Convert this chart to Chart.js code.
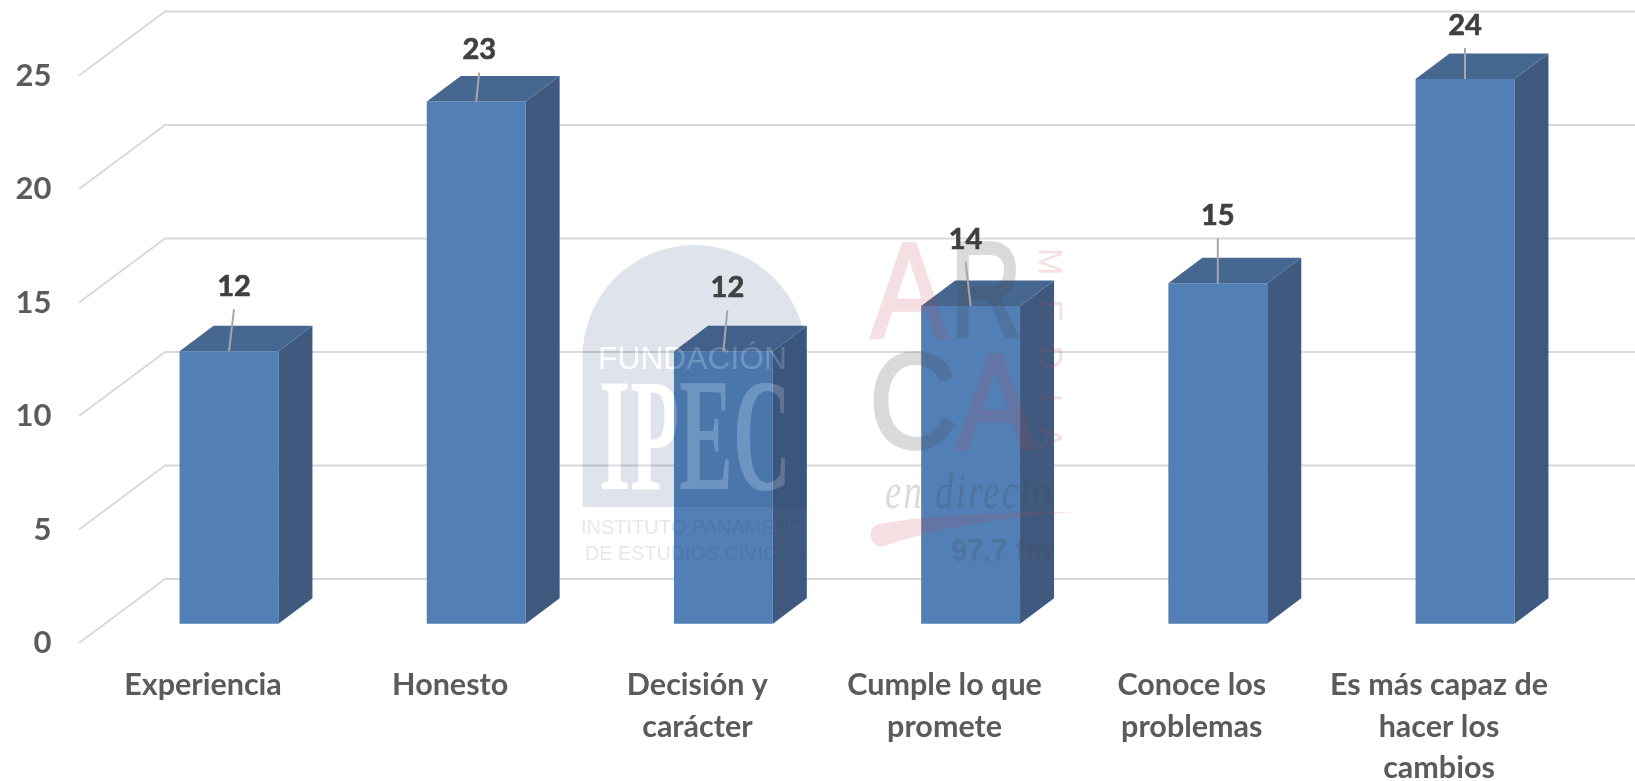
<!DOCTYPE html>
<html><head><meta charset="utf-8">
<style>html,body{margin:0;padding:0;background:#fff}canvas{display:block}</style>
<script src="https://cdn.jsdelivr.net/npm/chart.js@4/dist/chart.umd.min.js"></script>
</head><body>
<canvas id="c" width="1635" height="781"></canvas>
<script>
const categories = [
  "Experiencia",
  "Honesto",
  ["Decisión y", "carácter"],
  ["Cumple lo que", "promete"],
  ["Conoce los", "problemas"],
  ["Es más capaz de", "hacer los", "cambios"]
];
const values = [12, 23, 12, 14, 15, 24];
const yStep = 5;

// leader line tips for the value labels, relative to bar centre / bar top
const leaderDx = [5, 3, 4, -5, 0, 0];
const leaderDy = [-42, -29, -41, -44, -45, -31];

const FONT = 'Lato, "Open Sans", sans-serif';
const PX_PER_UNIT = 22.7;
const BAR_LIFT = 19.3, WALL_LIFT = 64;
const AREA_H = 643 - 11.5;
const DEPTH_X = 34, DEPTH_Y = 25.5;

const threeD = {
  id: 'threeD',
  beforeDatasetsDraw(chart) {
    const ctx = chart.ctx, wall = chart.scales.yWall, front = chart.scales.y;
    ctx.save();
    ctx.strokeStyle = '#d9d9d9';
    ctx.lineWidth = 2;
    ctx.lineJoin = 'round';
    front.ticks.forEach(t => {
      const yb = wall.getPixelForValue(t.value), yf = front.getPixelForValue(t.value);
      ctx.beginPath();
      ctx.moveTo(79, yf);
      ctx.lineTo(165, yb);
      ctx.lineTo(1635, yb);
      ctx.stroke();
    });
    ctx.restore();
  },
  afterDatasetsDraw(chart) {
    const ctx = chart.ctx;
    const meta = chart.getDatasetMeta(0);
    ctx.save();
    meta.data.forEach(b => {
      const l = b.x - b.width / 2, r = b.x + b.width / 2, t = b.y, base = b.base;
      ctx.fillStyle = '#3f5a7e';
      ctx.beginPath();
      ctx.moveTo(r, base); ctx.lineTo(r + DEPTH_X, base - DEPTH_Y);
      ctx.lineTo(r + DEPTH_X, t - DEPTH_Y); ctx.lineTo(r, t);
      ctx.closePath(); ctx.fill();
      ctx.fillStyle = '#46678f';
      ctx.beginPath();
      ctx.moveTo(l, t); ctx.lineTo(l + DEPTH_X, t - DEPTH_Y);
      ctx.lineTo(r + DEPTH_X, t - DEPTH_Y); ctx.lineTo(r, t);
      ctx.closePath(); ctx.fill();
    });
    ctx.restore();
    drawIpec(ctx);
    drawArca(ctx);
    // value labels and leader lines
    ctx.save();
    meta.data.forEach((b, i) => {
      const tx = b.x + leaderDx[i], ty = b.y + leaderDy[i];
      ctx.strokeStyle = '#a6a6a6';
      ctx.lineWidth = 2;
      ctx.beginPath(); ctx.moveTo(b.x, b.y); ctx.lineTo(tx, ty); ctx.stroke();
      ctx.fillStyle = '#404040';
      ctx.strokeStyle = '#404040';
      ctx.lineWidth = 0.7;
      ctx.font = 'bold 29px ' + FONT;
      ctx.textAlign = 'center';
      ctx.textBaseline = 'middle';
      ctx.fillText(String(values[i]), tx, ty - 22.5);
      ctx.strokeText(String(values[i]), tx, ty - 22.5);
    });
    ctx.restore();
  }
};

function drawIpec(ctx) {
  const off = document.createElement('canvas');
  off.width = 1635; off.height = 781;
  const o = off.getContext('2d');
  o.fillStyle = 'rgba(40,70,120,0.15)';
  o.beginPath();
  o.moveTo(582.5, 357);
  o.arc(694.5, 357, 112, Math.PI, 0);
  o.lineTo(806.5, 507);
  o.lineTo(582.5, 507);
  o.closePath();
  o.fill();
  const letters = (fill) => {
    o.fillStyle = fill;
    o.textAlign = 'left'; o.textBaseline = 'alphabetic';
    o.font = '32px "Liberation Sans"';
    o.fillText('FUNDACIÓN', 598, 369, 189);
    o.font = 'bold 160px "Liberation Serif"';
    o.fillText('IPEC', 599, 489, 192);
  };
  o.globalCompositeOperation = 'destination-out';
  letters('#000');
  o.globalCompositeOperation = 'source-over';
  letters('rgba(255,255,255,0.17)');
  o.fillStyle = 'rgba(40,70,120,0.13)';
  o.font = '20px "Liberation Sans"';
  o.textBaseline = 'middle';
  o.fillText('INSTITUTO PANAMEÑO', 581, 528, 226);
  o.fillText('DE ESTUDIOS CÍVICOS', 585, 554, 221);
  ctx.drawImage(off, 0, 0);
}

function drawArca(ctx) {
  const pink = 'rgba(190,70,85,0.17)', gray = 'rgba(70,70,70,0.2)';
  const off = document.createElement('canvas');
  off.width = 1635; off.height = 781;
  const o = off.getContext('2d');
  o.textBaseline = 'alphabetic';
  o.font = '135px "Liberation Sans"';
  o.lineWidth = 3.5;
  o.lineJoin = 'miter';
  const glyph = (ch, x, y, w, rgb) => {
    o.fillStyle = o.strokeStyle = rgb;
    o.fillText(ch, x, y, w);
    o.strokeText(ch, x, y, w);
  };
  // drawn opaque on their own layer so that fill and outline do not add up
  glyph('A', 871, 337, 76, 'rgb(190,70,85)');
  glyph('A', 956, 448, 78, 'rgb(190,70,85)');
  o.globalCompositeOperation = 'destination-out';
  o.globalCompositeOperation = 'source-over';
  ctx.save();
  ctx.globalAlpha = 0.17;
  ctx.drawImage(off, 0, 0);
  o.clearRect(0, 0, 1635, 781);
  glyph('R', 950, 337, 72, 'rgb(70,70,70)');
  glyph('C', 869, 448, 88, 'rgb(70,70,70)');
  ctx.globalAlpha = 0.2;
  ctx.drawImage(off, 0, 0);
  ctx.restore();

  ctx.save();
  ctx.textAlign = 'left'; ctx.textBaseline = 'alphabetic';
  // swoosh
  ctx.fillStyle = pink;
  ctx.beginPath();
  ctx.moveTo(1076, 512);
  ctx.quadraticCurveTo(950, 512, 884, 523);
  ctx.arc(882, 535, 11.5, -Math.PI / 2, Math.PI / 2, true);
  ctx.quadraticCurveTo(960, 520, 1076, 512);
  ctx.closePath();
  ctx.fill();
  // vertical MEDIA
  ctx.save();
  ctx.translate(1039, 248);
  ctx.rotate(Math.PI / 2);
  ctx.fillStyle = pink;
  ctx.font = '33px "Liberation Sans"';
  ctx.letterSpacing = '24px';
  ctx.fillText('MEDIA', 0, 0);
  ctx.restore();
  ctx.fillStyle = gray;
  ctx.font = 'italic 50px "Liberation Serif"';
  ctx.letterSpacing = '3px';
  ctx.fillText('en directo', 885, 508, 168);
  ctx.letterSpacing = '0px';
  ctx.font = 'bold 31px "Liberation Sans"';
  ctx.fillText('97.7 fm', 951, 561, 100);
  ctx.restore();
}

new Chart(document.getElementById('c'), {
  type: 'bar',
  data: {
    labels: categories,
    datasets: [{
      data: values,
      yAxisID: 'yBar',
      backgroundColor: '#517fb6',
      borderWidth: 0,
      barPercentage: 0.4,
      categoryPercentage: 1
    }]
  },
  plugins: [threeD],
  options: {
    responsive: false,
    animation: false,
    events: [],
    layout: { padding: { top: 11.5, right: 46.4, left: 0, bottom: 0 } },
    plugins: { legend: { display: false }, tooltip: { enabled: false }, title: { display: false } },
    scales: {
      x: {
        type: 'category',
        grid: { display: false, drawTicks: false },
        border: { display: false },
        ticks: {
          autoSkip: false, maxRotation: 0, minRotation: 0,
          labelOffset: -26, padding: 21,
          color: '#5b5b5b',
          font: { family: FONT, size: 30.5, weight: 'bold', lineHeight: 1.37 }
        },
        afterFit(s) { s.height = 138; s.paddingLeft = 0; s.paddingRight = 0; }
      },
      y: {
        position: 'left',
        min: 0, max: AREA_H / PX_PER_UNIT,
        grid: { display: false, drawTicks: false },
        border: { display: false },
        ticks: {
          stepSize: yStep, includeBounds: false, padding: 54,
          color: '#5b5b5b',
          font: { family: FONT, size: 31, weight: 'bold' }
        },
        afterFit(s) { s.width = 105.4; s.paddingTop = 0; s.paddingBottom = 0; }
      },
      yBar: {
        display: false,
        min: -BAR_LIFT / PX_PER_UNIT,
        max: (AREA_H - BAR_LIFT) / PX_PER_UNIT
      },
      yWall: {
        display: false,
        min: -WALL_LIFT / PX_PER_UNIT,
        max: (AREA_H - WALL_LIFT) / PX_PER_UNIT
      }
    }
  }
});
</script>
</body></html>
